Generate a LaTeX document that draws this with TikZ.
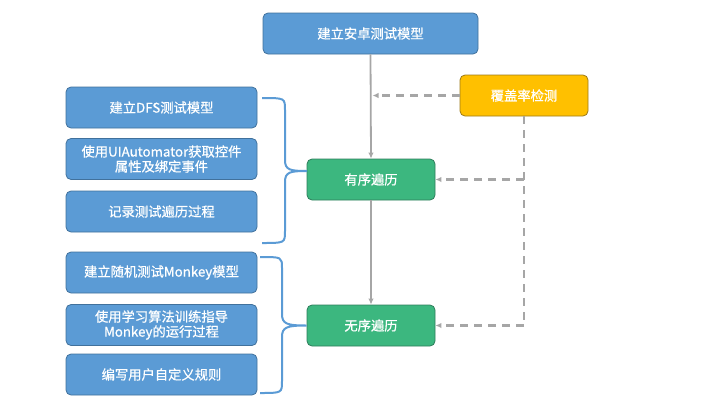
\documentclass[tikz,border=0pt]{standalone}
\usepackage{fontspec}
\setmainfont{Noto Sans CJK SC}[BoldFont={Noto Sans CJK SC},BoldFeatures={FakeBold=0.7}]
\usetikzlibrary{arrows.meta}
\definecolor{bfill}{HTML}{5B9BD5}
\definecolor{bdraw}{HTML}{41719C}
\definecolor{gfill}{HTML}{3CB77F}
\definecolor{gdraw}{HTML}{2E7D5B}
\definecolor{ofill}{HTML}{FFC000}
\definecolor{odraw}{HTML}{9C7A1A}
\definecolor{lgray}{HTML}{A6A6A6}
\tikzset{
  box/.style={rounded corners=5pt, line width=0.8pt, text=white, align=center,
    font=\fontsize{13.3}{15}\selectfont\bfseries, inner sep=0pt},
  bluebox/.style={box, fill=bfill, draw=bdraw, minimum width=191pt, minimum height=41pt},
  topbox/.style={box, fill=bfill, draw=bdraw, minimum width=215pt, minimum height=41pt},
  greenbox/.style={box, fill=gfill, draw=gdraw, minimum width=128pt, minimum height=41pt},
  orangebox/.style={box, fill=ofill, draw=odraw, minimum width=128pt, minimum height=41pt},
  solidarrow/.style={draw=lgray, line width=1.8pt, -{Latex[length=6pt,width=5.5pt]}},
  dasharrow/.style={draw=lgray, line width=2.2pt, dash pattern=on 8pt off 6pt, -{Latex[length=6pt,width=5.5pt]}},
  dashline/.style={draw=lgray, line width=2.2pt, dash pattern=on 8pt off 6pt},
  bracestyle/.style={draw=bfill, line width=2pt}
}
\begin{document}
\begin{tikzpicture}[x=1pt,y=-1pt]
\useasboundingbox (0,0) rectangle (720,405);
\node[topbox] (top) at (370.5,33.5) {建立安卓测试模型};
\node[orangebox] (cov) at (524,95.5) {覆盖率检测};
\node[greenbox] (ord) at (371,179.5) {有序遍历};
\node[greenbox] (rnd) at (371,325.5) {无序遍历};
\node[bluebox] (b1) at (161.5,107.5) {建立DFS测试模型};
\node[bluebox] (b2) at (161.5,159) {使用UIAutomator获取控件\\属性及绑定事件};
\node[bluebox] (b3) at (161.5,211.5) {记录测试遍历过程};
\node[bluebox] (b4) at (161.5,272.5) {建立随机测试Monkey模型};
\node[bluebox] (b5) at (161.5,325) {使用学习算法训练指导\\Monkey的运行过程};
\node[bluebox] (b6) at (161.5,374.5) {编写用户自定义规则};

% solid arrows
\draw[solidarrow] (top.south) -- (ord.north);
\draw[solidarrow] (ord.south) -- (rnd.north);
% dashed
\coordinate (m1) at (top.south |- cov.west);
\draw[dasharrow] (cov.west) -- ([xshift=2pt]m1);
\coordinate (d1) at (cov.south |- ord.east);
\coordinate (d2) at (cov.south |- rnd.east);
\draw[dashline] (cov.south) -- (d2);
\draw[dasharrow] (d1) -- (ord.east);
\draw[dasharrow] (d2) -- (rnd.east);

% braces
\coordinate (t1) at (307,171);
\draw[bracestyle] (262,98) .. controls (285,98) .. (285,110) -- (285,160)
  .. controls (285,170) and (290,171) .. (t1)
  .. controls (290,171) and (285,172) .. (285,182) -- (285,231)
  .. controls (285,243) .. (262,243);
\coordinate (t2) at (rnd.west);
\draw[bracestyle] (260,257) .. controls (282,257) .. (282,268) -- (282,314)
  .. controls (282,324) and (287,325.5) .. (t2)
  .. controls (287,325.5) and (282,327) .. (282,337) -- (282,381)
  .. controls (282,393) .. (260,393);
\end{tikzpicture}
\end{document}
